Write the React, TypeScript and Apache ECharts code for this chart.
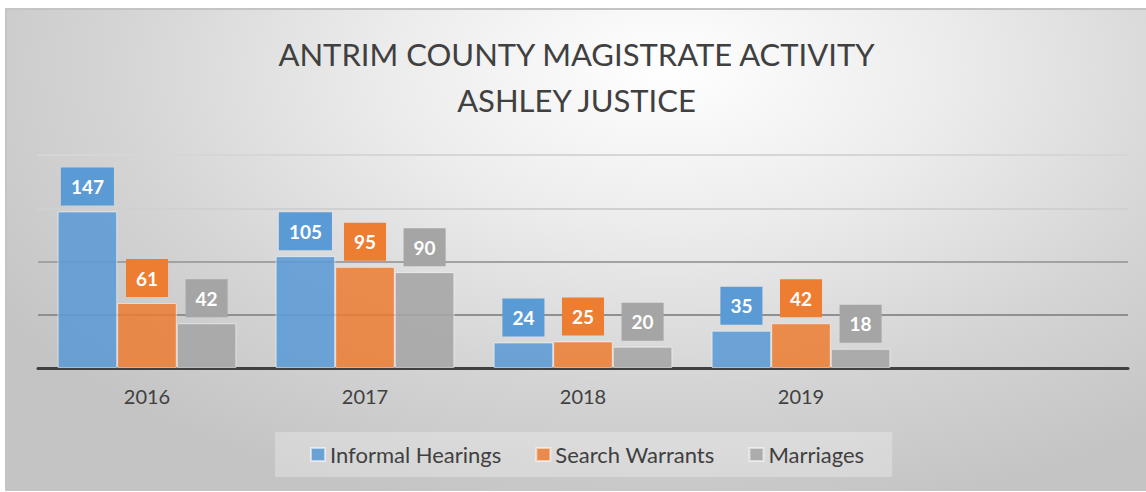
import React, { useEffect, useRef } from "react";
import * as echarts from "echarts";

const categories = ["2016", "2017", "2018", "2019", ""];
const informalHearings = [147, 105, 24, 35];
const searchWarrants = [61, 95, 25, 42];
const marriages = [42, 90, 20, 18];
const titleText = "ANTRIM COUNTY MAGISTRATE ACTIVITY\nASHLEY JUSTICE";

const FONT = "Lato, 'Open Sans', sans-serif";

function makeSeries(name: string, data: number[], solid: string, fill: string) {
  return {
    name,
    type: "bar",
    data,
    barGap: "0%",
    barCategoryGap: "18%",
    itemStyle: {
      color: fill,
      borderColor: "rgba(255,255,255,0.55)",
      borderWidth: 1,
    },
    label: {
      show: true,
      position: "top",
      distance: 6,
      backgroundColor: solid,
      color: "#ffffff",
      fontFamily: FONT,
      fontWeight: "bold",
      fontSize: 19,
      lineHeight: 20,
      padding: [9, 10, 9, 10],
    },
  };
}

export default function App() {
  const ref = useRef<HTMLDivElement>(null);
  useEffect(() => {
    if (!ref.current) return;
    const chart = echarts.init(ref.current, null, { renderer: "svg" });
    chart.setOption({
      animation: false,
      title: {
        text: titleText,
        left: "center",
        top: 21,
        padding: 0,
        textStyle: {
          fontFamily: FONT,
          fontWeight: "normal",
          fontSize: 31,
          lineHeight: 46,
          color: "#404040",
        },
      },
      legend: {
        data: ["Informal Hearings", "Search Warrants", "Marriages"],
        left: 268,
        top: 422,
        backgroundColor: "rgba(255,255,255,0.28)",
        padding: [11, 28, 11, 35],
        itemGap: 34,
        itemWidth: 14,
        itemHeight: 13,
        icon: "rect",
        textStyle: {
          fontFamily: FONT,
          fontSize: 22,
          lineHeight: 23,
          color: "#404040",
        },
      },
      grid: {
        left: 31,
        right: 18,
        top: 145,
        bottom: 123,
        containLabel: false,
      },
      xAxis: {
        type: "category",
        data: categories,
        axisLine: { show: true, lineStyle: { color: "#404040", width: 3 } },
        axisTick: { show: false },
        axisLabel: {
          fontFamily: FONT,
          fontSize: 20,
          color: "#404040",
          margin: 18,
        },
      },
      yAxis: {
        type: "value",
        min: 0,
        max: 200,
        interval: 50,
        axisLabel: { show: false },
        axisLine: { show: false },
        axisTick: { show: false },
        splitLine: {
          show: true,
          lineStyle: {
            width: 2,
            color: ["#777777", "#909090", "#a2a2a2", "#d0d0d0", "#d6d6d6"],
          },
        },
      },
      series: [
        makeSeries("Informal Hearings", informalHearings, "#5B9BD5", "rgba(91,155,213,0.88)"),
        makeSeries("Search Warrants", searchWarrants, "#ED7D31", "rgba(237,125,49,0.85)"),
        makeSeries("Marriages", marriages, "#A5A5A5", "rgba(165,165,165,0.88)"),
      ],
    });
    return () => chart.dispose();
  }, []);
  return (
    <div
      style={{
        position: "absolute",
        left: 5,
        top: 8,
        width: 1141,
        height: 483,
        boxSizing: "border-box",
        borderTop: "2px solid #c4c4c4",
        borderLeft: "2px solid #c4c4c4",
        background:
          "radial-gradient(ellipse 70% 95% at 58% 12%, #ffffff 0%, #ececec 35%, #d4d4d4 70%, #c4c4c4 100%)",
      }}
    >
      <div ref={ref} style={{ width: "100%", height: "100%" }} />
    </div>
  );
}
